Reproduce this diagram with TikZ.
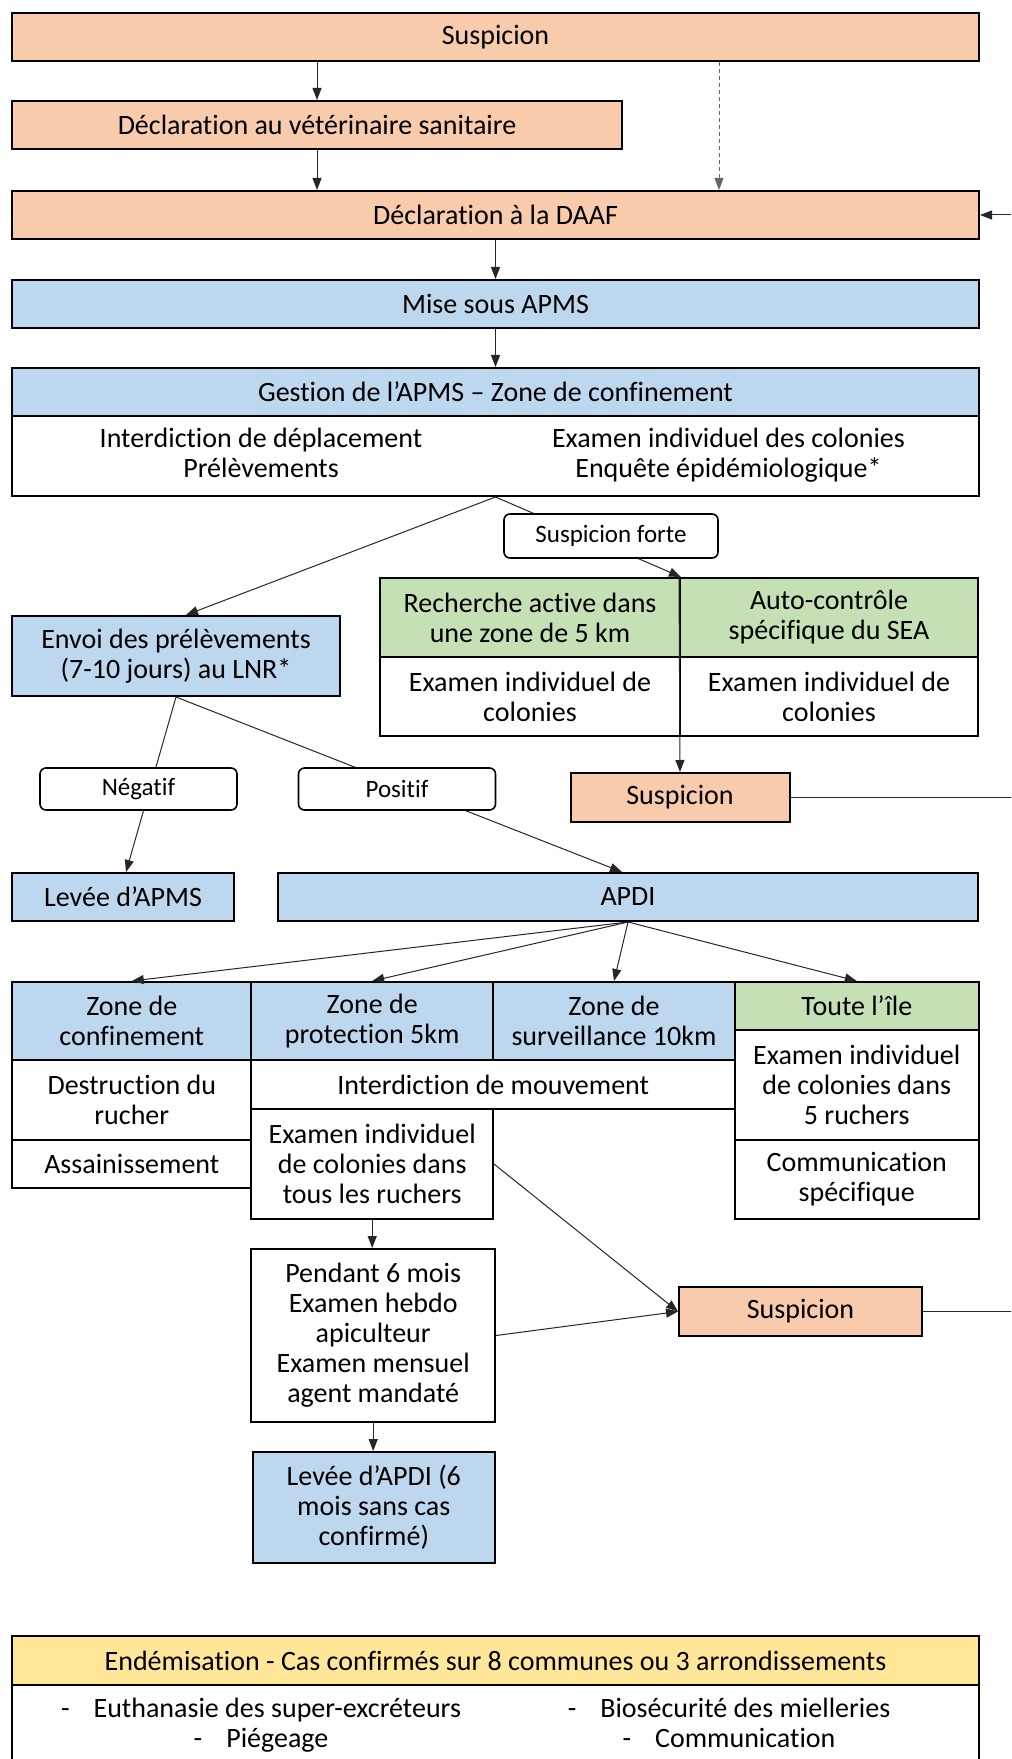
\documentclass[tikz,border=0pt]{standalone}
\usepackage{fontspec}
\setmainfont{Carlito}[Ligatures=NoCommon]
\usetikzlibrary{arrows.meta}
\definecolor{peach}{HTML}{F8CBAD}
\definecolor{sky}{HTML}{BDD7EE}
\definecolor{sage}{HTML}{C5E0B4}
\definecolor{straw}{HTML}{FFE699}

\begin{document}
\begin{tikzpicture}[x=1pt,y=-1pt,
  box/.style={draw=black, line width=1pt, inner sep=1pt, align=center, font=\fontsize{14}{15}\selectfont},
  orangecell/.style={box, fill=peach},
  bluecell/.style={box, fill=sky},
  greencell/.style={box, fill=sage},
  yellowcell/.style={box, fill=straw},
  whitecell/.style={box, fill=white},
  tag/.style={draw, fill=white, rounded corners=3pt, line width=0.8pt, minimum width=98.5pt, minimum height=21pt, inner sep=1pt, font=\fontsize{12.5}{14}\selectfont},
  txt/.style={align=center, font=\fontsize{14}{15}\selectfont},
  arr/.style={-{Triangle[length=6pt,width=4.5pt]}, line width=0.5pt, black!85},
  link/.style={line width=0.5pt, black!85}]
\clip (0,0) rectangle (505.5,879.5);
\coordinate (rim) at (512,0);
\coordinate (dashx) at (359.5,0);

%TOP
\node[orangecell, minimum width=483.5pt, minimum height=24pt] (susp) at (247.75,18.5) {Suspicion};
\node[orangecell, minimum width=305pt, minimum height=24pt] (declvet) at (158.5,62.5) {Déclaration au vétérinaire sanitaire};
\node[orangecell, minimum width=483.5pt, minimum height=24pt] (daaf) at (247.75,107.5) {Déclaration à la DAAF};

%APMS
\node[bluecell, minimum width=483.5pt, minimum height=24pt] (apms) at (247.75,152) {Mise sous APMS};
\node[bluecell, minimum width=483.5pt, minimum height=24pt] (ghead) at (247.75,196) {Gestion de l’APMS – Zone de confinement};
\node[whitecell, minimum width=483.5pt, minimum height=40pt] (gbody) at (247.75,228) {};
\node[txt] (gleft) at (130.5,228) {\strut Interdiction de déplacement\\\strut Prélèvements};
\node[txt] (gright) at (364.25,228) {\strut Examen individuel des colonies\\\strut Enquête épidémiologique*};

\node[bluecell, minimum width=164pt, minimum height=40pt] (envoi) at (88,328) {Envoi des prélèvements\\(7-10 jours) au LNR*};
\node[greencell, minimum width=150pt, minimum height=39.5pt] (greenL) at (265,308.75) {Recherche active dans\\une zone de 5 km};
\node[greencell, minimum width=149pt, minimum height=39.5pt] (greenR) at (414.5,308.75) {Auto-contrôle\\spécifique du SEA};
\node[whitecell, minimum width=150pt, minimum height=39.5pt] (exL) at (265,348.25) {Examen individuel de\\colonies};
\node[whitecell, minimum width=149pt, minimum height=39.5pt] (exR) at (414.5,348.25) {Examen individuel de\\colonies};
\node[orangecell, minimum width=109.5pt, minimum height=24.5pt] (susp2) at (340,398.75) {Suspicion};

\node[bluecell, minimum width=111pt, minimum height=24pt] (leveeapms) at (61.5,448.5) {Levée d’APMS};

%APDI
\node[bluecell, minimum width=350pt, minimum height=24pt] (apdi) at (314,448.5) {APDI};
\node[bluecell, minimum width=119.75pt, minimum height=39pt] (zc) at (65.9,510.5) {Zone de\\confinement};
\node[bluecell, minimum width=120.75pt, minimum height=39pt] (zp) at (186.1,510.5) {Zone de\\protection 5km};
\node[bluecell, minimum width=121pt, minimum height=39pt] (zs) at (307,510.5) {Zone de\\surveillance 10km};
\node[greencell, minimum width=121.75pt, minimum height=24pt] (ile) at (428.4,503) {Toute l’île};
\node[whitecell, minimum width=119.75pt, minimum height=40pt] (destr) at (65.9,550) {Destruction du\\rucher};
\node[whitecell, minimum width=119.75pt, minimum height=24pt] (assain) at (65.9,582) {Assainissement};
\node[whitecell, minimum width=241.75pt, minimum height=24.5pt] (interd) at (246.6,542.25) {Interdiction de mouvement};
\node[whitecell, minimum width=120.75pt, minimum height=55pt] (etous) at (186.1,582) {Examen individuel\\de colonies dans\\tous les ruchers};
\node[whitecell, minimum width=121.75pt, minimum height=55pt] (ileexam) at (428.4,542.5) {Examen individuel\\de colonies dans\\5 ruchers};
\node[whitecell, minimum width=121.75pt, minimum height=39.5pt] (ilecomm) at (428.4,589.75) {Communication\\spécifique};
\node[whitecell, minimum width=121.75pt, minimum height=86.5pt] (pendant) at (186.6,667.75) {Pendant 6 mois\\Examen hebdo\\apiculteur\\Examen mensuel\\agent mandaté};
\node[orangecell, minimum width=121.5pt, minimum height=24.5pt] (susp3) at (400.25,655.75) {Suspicion};
\node[bluecell, minimum width=121pt, minimum height=55.5pt] (leveeapdi) at (186.9,753.75) {Levée d’APDI (6\\mois sans cas\\confirmé)};

%BOT
\node[yellowcell, minimum width=483.5pt, minimum height=24.5pt] (endhead) at (247.75,830.25) {Endémisation - Cas confirmés sur 8 communes ou 3 arrondissements};
\node[whitecell, minimum width=483.5pt, minimum height=50pt] (endbody) at (247.75,867.5) {};
\node[txt] (endleft) at (130.5,863.3) {\strut-\hspace{12pt}Euthanasie des super-excréteurs\\\strut-\hspace{12pt}Piégeage};
\node[txt] (endright) at (364.5,863.3) {\strut-\hspace{12pt}Biosécurité des mielleries\\\strut-\hspace{12pt}Communication};

% arrows
\draw[arr] (susp.south -| declvet.north) -- (declvet.north);
\draw[arr, black!60, dash pattern=on 2pt off 1.5pt] (susp.south -| dashx) -- (daaf.north -| dashx);
\draw[arr] (declvet.south) -- (declvet.south |- daaf.north);
\draw[arr] (daaf.east -| rim) -- (daaf.east);
\draw[arr] (daaf.south) -- (apms.north);
\draw[arr] (apms.south) -- (ghead.north);
\draw[arr] (gbody.south) -- ([xshift=5pt]envoi.north);
\draw[arr] (gbody.south) -- (greenL.north east);
\draw[arr] (greenR.north west) -- (susp2.north);
\draw[link] (susp2.east) -- (susp2.east -| rim);
\draw[arr] (envoi.south) -- ([xshift=1.5pt]leveeapms.north);
\draw[arr] (envoi.south) -- ([xshift=-3pt]apdi.north);
\foreach \z in {zc,zp,zs,ile}
  \draw[arr] (apdi.south) -- (\z.north);
\draw[arr] (etous.south) -- (etous.south |- pendant.north);
\draw[arr] (etous.east) -- (susp3.west);
\draw[arr] (pendant.east) -- (susp3.west);
\draw[link] (susp3.east) -- (susp3.east -| rim);
\draw[arr] (pendant.south) -- (pendant.south |- leveeapdi.north);

% labels on the arrows
\node[tag, minimum width=107pt, minimum height=22pt] (forte) at (305.5,268) {Suspicion forte};
\node[tag] (neg) at (69.25,394.5) {Négatif};
\node[tag] (pos) at (198.5,394.5) {Positif};
\end{tikzpicture}
\end{document}
